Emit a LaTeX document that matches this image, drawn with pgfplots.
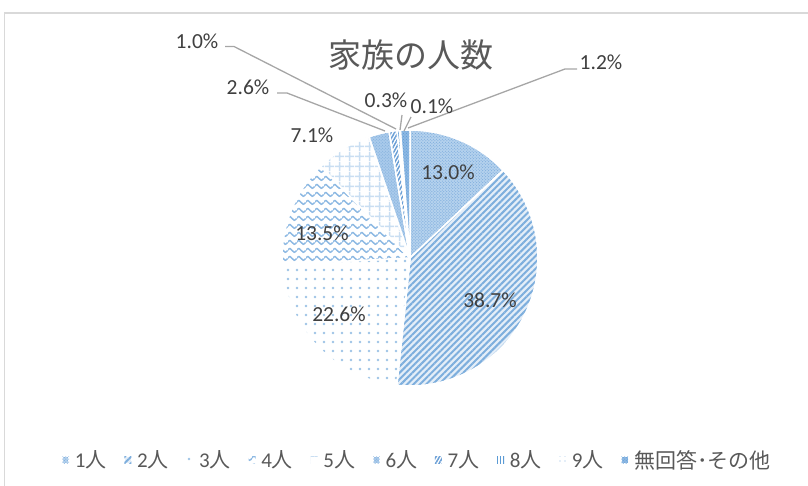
\documentclass[border=0pt]{standalone}
\usepackage{pgfplots}
\pgfplotsset{compat=1.18}
\usepackage{fontspec}
\setmainfont{Carlito}
\newfontfamily\cjk{Noto Sans CJK JP}
\usetikzlibrary{patterns,patterns.meta}

\definecolor{lbl}{HTML}{404040}
\definecolor{ttl}{HTML}{595959}
\definecolor{lead}{HTML}{A6A6A6}
\definecolor{frame}{HTML}{D9D9D9}
\definecolor{b1}{HTML}{B4D1ED}
\definecolor{p1}{HTML}{6FA3D8}
\definecolor{b2}{HTML}{E4EEF8}
\definecolor{p2}{HTML}{7DAEDD}
\definecolor{p3}{HTML}{9DC3E6}
\definecolor{p4}{HTML}{8DB9E3}
\definecolor{p5}{HTML}{C9DEF2}
\definecolor{b6}{HTML}{A9CAEB}
\definecolor{p6}{HTML}{7AAAD9}
\definecolor{p7}{HTML}{6A9FD6}
\definecolor{p8}{HTML}{5B9BD5}
\definecolor{b10}{HTML}{8DB8E3}

\pgfdeclarepattern{
  name=mywave,
  type=uncolored,
  bottom left={\pgfpoint{0bp}{0bp}},
  top right={\pgfpoint{9bp}{8bp}},
  tile size={\pgfpoint{9bp}{8bp}},
  code={
    \pgfsetlinewidth{1.6bp}
    \pgfpathmoveto{\pgfpoint{-0.5bp}{4bp}}
    \pgfpathcurveto{\pgfpoint{1.5bp}{6.8bp}}{\pgfpoint{3bp}{6.8bp}}{\pgfpoint{4.5bp}{4bp}}
    \pgfpathcurveto{\pgfpoint{6bp}{1.2bp}}{\pgfpoint{7.5bp}{1.2bp}}{\pgfpoint{9.5bp}{4bp}}
    \pgfusepath{stroke}
  }
}

\pgfplotsset{
  slice/.style={draw=white, line width=1.5bp, line join=round},
  s1/.style={slice, preaction={fill=b1}, pattern=crosshatch dots, pattern color=p1},
  s2/.style={slice, preaction={fill=b2}, pattern={Lines[angle=45,distance=4.5bp,line width=2bp]}, pattern color=p2},
  s3/.style={slice, preaction={fill=white}, pattern={Dots[distance=9bp,radius=1.4bp]}, pattern color=p3},
  s4/.style={slice, preaction={fill=white}, pattern=mywave, pattern color=p4},
  s5/.style={slice, preaction={fill=white}, pattern={Hatch[angle=0,distance=10bp,line width=1.5bp]}, pattern color=p5},
  s6/.style={slice, preaction={fill=b6}, pattern=crosshatch dots, pattern color=p6},
  s7/.style={slice, preaction={fill=white}, pattern={Lines[angle=60,distance=3bp,line width=1.5bp]}, pattern color=p7},
  s8/.style={slice, preaction={fill=white}, pattern={Lines[angle=90,distance=3.5bp,line width=1.6bp]}, pattern color=p8},
  s9/.style={slice, preaction={fill=white}, pattern={Dots[distance=5bp,radius=0.8bp]}, pattern color=p5},
  s10/.style={slice, preaction={fill=b10}, pattern=crosshatch dots, pattern color=p8},
}

% start and end of each slice, as cumulative percentages (total 100.1)
\newcommand{\pieslice}[3]{%
  \addplot[#3, domain={#1*3.5964}:{#2*3.5964}, samples=90, variable=\t]
    ({410+128*sin(\t)}, {258-128*cos(\t)}) -- (axis cs:410,258) -- cycle;
}

\begin{document}
\begin{tikzpicture}
\begin{axis}[
  width=808bp, height=486bp, scale only axis,
  xmin=0, xmax=808, ymin=0, ymax=486, y dir=reverse,
  hide axis, clip=false,
  legend columns=10,
  legend image code/.code={\path[#1, draw=none] (0bp,-3.5bp) rectangle (7bp,3.5bp);},
  legend style={draw=none, fill=none, at={(axis cs:417,460)}, anchor=center,
    font=\fontsize{21bp}{25bp}\selectfont, text=ttl,
    /tikz/every odd column/.append style={column sep=3bp},
    /tikz/every even column/.append style={column sep=15bp}},
]
\pieslice{0}{13.0}{s1}
\addlegendentry{1{\cjk 人}}
\pieslice{13.0}{51.7}{s2}
\addlegendentry{2{\cjk 人}}
\pieslice{51.7}{74.3}{s3}
\addlegendentry{3{\cjk 人}}
\pieslice{74.3}{87.8}{s4}
\addlegendentry{4{\cjk 人}}
\pieslice{87.8}{94.9}{s5}
\addlegendentry{5{\cjk 人}}
\pieslice{94.9}{97.5}{s6}
\addlegendentry{6{\cjk 人}}
\pieslice{97.5}{98.5}{s7}
\addlegendentry{7{\cjk 人}}
\pieslice{98.5}{98.8}{s8}
\addlegendentry{8{\cjk 人}}
\pieslice{98.8}{98.9}{s9}
\addlegendentry{9{\cjk 人}}
\pieslice{98.9}{100.1}{s10}
\addlegendentry{{\cjk 無回答･その他}}

% frame
\draw[frame, line width=1.5bp] (axis cs:4.5,490) -- (axis cs:4.5,13) -- (axis cs:812,13);

% title
\node[text=ttl, font=\cjk\fontsize{33bp}{40bp}\selectfont] at (axis cs:411,55) {家族の人数};

% leader lines
\draw[lead, line width=1.3bp] (axis cs:225,46.5) -- (axis cs:234,46.5) -- (axis cs:396,129);
\draw[lead, line width=1.3bp] (axis cs:277,93) -- (axis cs:287,93) -- (axis cs:385,131);
\draw[lead, line width=1.3bp] (axis cs:402,115) -- (axis cs:400,130);
\draw[lead, line width=1.3bp] (axis cs:411,117) -- (axis cs:404,131);
\draw[lead, line width=1.3bp] (axis cs:577,69) -- (axis cs:565,69) -- (axis cs:408,128);

% data labels
\begin{scope}[every node/.style={text=lbl, inner sep=0pt, font=\fontsize{21.5bp}{25bp}\selectfont}]
\node at (axis cs:448,172) {13.0\%};
\node at (axis cs:490,300) {38.7\%};
\node at (axis cs:339,314) {22.6\%};
\node at (axis cs:322,233) {13.5\%};
\node at (axis cs:312,135) {7.1\%};
\node at (axis cs:248,87) {2.6\%};
\node at (axis cs:197,41) {1.0\%};
\node at (axis cs:386,100) {0.3\%};
\node at (axis cs:432,106) {0.1\%};
\node at (axis cs:601,62) {1.2\%};
\end{scope}

\coordinate (BL) at (axis cs:0,486);
\coordinate (TR) at (axis cs:808,0);
\end{axis}
\pgfresetboundingbox
\path (BL) rectangle (TR);
\end{tikzpicture}
\end{document}
